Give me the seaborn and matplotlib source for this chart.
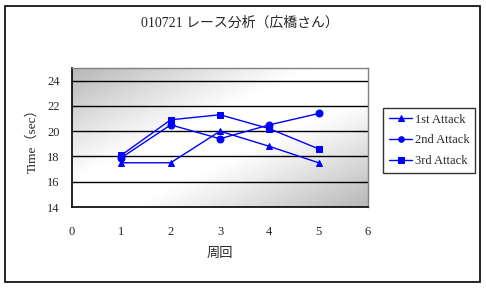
import numpy as np
import pandas as pd
import matplotlib
matplotlib.use("Agg")
import matplotlib.pyplot as plt
import seaborn as sns
from matplotlib.patches import Rectangle

laps = [1, 2, 3, 4, 5]
attack1 = [17.5, 17.5, 20.0, 18.8, 17.5]
attack2 = [17.9, 20.5, 19.4, 20.5, 21.4]
attack3 = [18.1, 20.9, 21.3, 20.2, 18.6]
series_names = ["1st Attack", "2nd Attack", "3rd Attack"]
x_ticks = [0, 1, 2, 3, 4, 5, 6]
y_ticks = [14, 16, 18, 20, 22, 24]
title = "010721 レース分析（広橋さん）"
xlabel = "周回"
ylabel = "Time（sec）"

df = pd.DataFrame({
    "lap": laps * 3,
    "time": attack1 + attack2 + attack3,
    "series": [series_names[0]] * 5 + [series_names[1]] * 5 + [series_names[2]] * 5,
})

sns.set_style("white")
fam = ["Liberation Serif", "Noto Sans CJK JP"]
plt.rcParams["font.family"] = fam

W, H = 486, 288
fig = plt.figure(figsize=(W / 100, H / 100), dpi=100)
fig.patch.set_facecolor("white")
fig.patches.append(Rectangle((5 / W, 6 / H), 475 / W, 276 / H, transform=fig.transFigure,
                             fill=False, edgecolor="black", linewidth=1.2))

ax = fig.add_axes([72 / W, 81 / H, 296 / W, 139 / H])

# gradient background
nx, ny = 300, 150
xx, yy = np.meshgrid(np.linspace(0, 1, nx), np.linspace(1, 0, ny))
d = (xx + (1 - yy)) / 2
g = 1 - 0.27 * np.clip(np.abs(2 * d - 1) * 1.3 - 0.25, 0, 1) ** 1.1
ax.imshow(np.dstack([g, g, g]), extent=[0, 6, 14, 25], aspect="auto", zorder=0)

for yv in y_ticks[1:]:
    ax.axhline(yv, color="black", linewidth=1.0, zorder=1)

blue = "#0000ff"
sns.lineplot(data=df, x="lap", y="time", hue="series", style="series",
             palette=[blue, blue, blue], markers=["^", "o", "s"], dashes=False,
             markersize=5, markeredgecolor=blue, linewidth=1.0, ax=ax, zorder=3,
             legend=True)

ax.set_xlim(0, 6)
ax.set_ylim(14, 25)
ax.set_xticks(x_ticks)
ax.set_yticks(y_ticks)
ax.tick_params(axis="x", direction="in", length=3, width=1, pad=14, labelsize=9)
ax.tick_params(axis="y", direction="out", length=0, pad=9, labelsize=9)
for side in ["left", "bottom"]:
    ax.spines[side].set_color("black")
    ax.spines[side].set_linewidth(1.2)
for side in ["top", "right"]:
    ax.spines[side].set_color("#808080")
    ax.spines[side].set_linewidth(1.0)
ax.set_xlabel(xlabel, fontsize=9.5, labelpad=7)
ax.set_ylabel(ylabel, fontsize=9.5, labelpad=6)
fig.text(240 / W, 1 - 23 / H, title, ha="center", va="center", fontsize=10)

handles, labels = ax.get_legend_handles_labels()
ax.get_legend().remove()
for h in handles:
    h.set_markersize(4)
leg = fig.legend(handles, labels, loc="upper left", bbox_to_anchor=(383 / W, 1 - 108 / H),
                 fontsize=9, frameon=True, fancybox=False, edgecolor="black",
                 handlelength=1.9, borderpad=0.45, labelspacing=0.7, handletextpad=0.2,
                 borderaxespad=0)
leg.get_frame().set_linewidth(1.0)

fig.savefig("out.png", dpi=100)
